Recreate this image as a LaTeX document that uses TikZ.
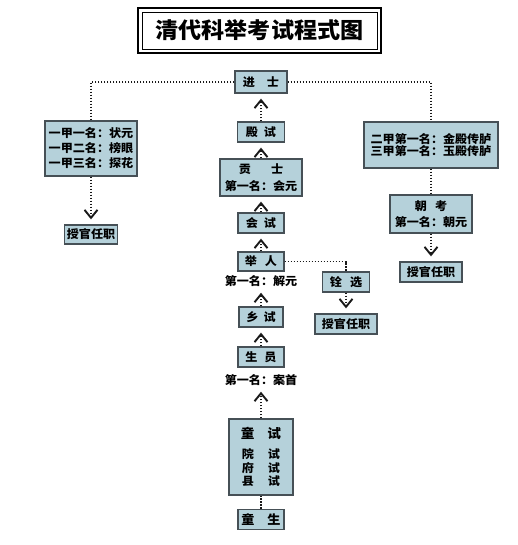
\documentclass[tikz,border=0pt]{standalone}
\usepackage{fontspec}
\setmainfont{Noto Sans CJK SC}[FakeStretch=1.05]
\usepackage{xcolor}
\usepackage{tikz}
\usetikzlibrary{arrows.meta,positioning}
\definecolor{boxfill}{RGB}{181,209,218}
\definecolor{boxline}{RGB}{70,80,86}

\begin{document}
\begin{tikzpicture}[x=1pt,y=-1pt,
	box/.style={draw=boxline,fill=boxfill,line width=1.3pt,inner sep=0pt,align=center,font=\fontsize{11.5}{15}\selectfont\bfseries},
	lbl/.style={inner sep=1pt,font=\fontsize{11.5}{15}\selectfont\bfseries},
	dotline/.style={line width=1.5pt,dash pattern=on 1.4pt off 1.6pt,draw=black!90},
	myarrow/.style={dotline,-{Straight Barb[length=8pt,width=13pt,line width=1.9pt]},shorten >=5pt}]
	\useasboundingbox[fill=white] (0,0) rectangle (517,545);
	\draw
		(259.5,30.5) node[draw,line width=0.8pt,inner sep=0pt,minimum width=235pt,minimum height=37pt,font=\fontsize{22}{22}\selectfont\bfseries](title){清代科举考试程式图}
		(261,82) node[box,minimum width=52pt,minimum height=22pt](jinshi){进\hspace{12pt}士}
		(261,132) node[box,minimum width=47pt,minimum height=20pt](dianshi){殿\hspace{6pt}试}
		(91,148.5) node[box,minimum width=92pt,minimum height=55pt](yijia){一甲一名：状元\\一甲二名：榜眼\\一甲三名：探花}
		(431,145) node[box,minimum width=134pt,minimum height=46pt,font=\fontsize{11.5}{12.5}\selectfont\bfseries](erjia){二甲第一名：金殿传胪\\三甲第一名：玉殿传胪}
		(261,177.5) node[box,minimum width=82pt,minimum height=37pt,font=\fontsize{11.5}{17}\selectfont\bfseries](gongshi){贡\hspace{20pt}士\\第一名：会元}
		(91,234.5) node[box,minimum width=53pt,minimum height=19pt](shouguanA){授官任职}
		(261,223) node[box,minimum width=46pt,minimum height=20pt](huishi){会\hspace{6pt}试}
		(261,261.5) node[box,minimum width=46pt,minimum height=19pt](juren){举\hspace{8pt}人}
		(261,281) node[lbl](jieyuan){第一名：解元}
		(346,282) node[box,minimum width=47pt,minimum height=20pt](quanxuan){铨\hspace{8pt}选}
		(346,324) node[box,minimum width=62pt,minimum height=20pt](shouguanB){授官任职}
		(261,317) node[box,minimum width=44pt,minimum height=20pt](xiangshi){乡\hspace{5pt}试}
		(431,214) node[box,minimum width=82pt,minimum height=38pt,font=\fontsize{11.5}{16}\selectfont\bfseries](chaokao){朝\hspace{8pt}考\\第一名：朝元}
		(431,272) node[box,minimum width=62pt,minimum height=20pt](shouguanC){授官任职}
		(261,357) node[box,minimum width=46pt,minimum height=20pt](shengyuan){生\hspace{7pt}员}
		(261,380) node[lbl](anshou){第一名：案首}
		(261,457) node[box,minimum width=64pt,minimum height=76pt,font=\fontsize{11.5}{13.5}\selectfont\bfseries](tongshi){{\fontsize{13}{13}\selectfont 童\hspace{13pt}试}\\[7pt]院\hspace{14pt}试\\府\hspace{14pt}试\\县\hspace{14pt}试}
		(261,519.5) node[box,minimum width=46pt,minimum height=20pt,font=\fontsize{12.5}{12.5}\selectfont\bfseries](tongsheng){童\hspace{13pt}生};
	\draw[line width=2.5pt] ([xshift=-3.5pt,yshift=3.5pt]title.north west) rectangle ([xshift=3.5pt,yshift=-3.5pt]title.south east);
	\draw[dotline] (jinshi.west) -| (yijia.north);
	\draw[dotline] (jinshi.east) -| (erjia.north);
	\draw[dotline] (erjia.south) -- (chaokao.north);
	\draw[dotline] (juren.east) -| (quanxuan.north);
	\draw[dotline] (tongsheng.north) -- (tongshi.south);
	\draw[myarrow] (dianshi.north) -- (jinshi.south);
	\draw[myarrow] (gongshi.north) -- (dianshi.south);
	\draw[myarrow] (huishi.north) -- (gongshi.south);
	\draw[myarrow] (juren.north) -- (huishi.south);
	\draw[myarrow] (xiangshi.north) -- (jieyuan.south);
	\draw[myarrow] (shengyuan.north) -- (xiangshi.south);
	\draw[myarrow] (tongshi.north) -- (anshou.south);
	\draw[myarrow] (yijia.south) -- (shouguanA.north);
	\draw[myarrow] (chaokao.south) -- (shouguanC.north);
	\draw[myarrow] (quanxuan.south) -- (shouguanB.north);
\end{tikzpicture}
\end{document}
